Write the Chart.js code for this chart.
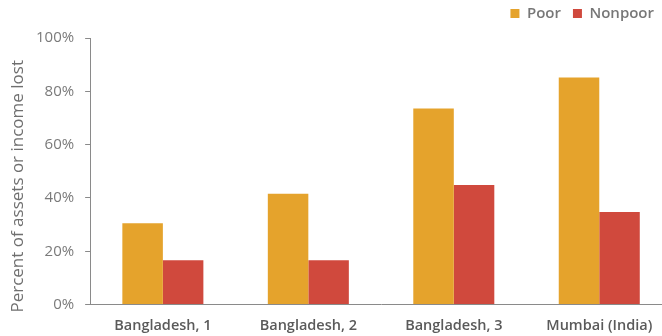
<!DOCTYPE html>
<html>
<head>
<meta charset="utf-8">
<script src="https://cdn.jsdelivr.net/npm/chart.js@4"></script>
<style>
    html, body { margin: 0; padding: 0; background: #fff; overflow: hidden; }
    #wrap { width: 672px; height: 336px; }
</style>
</head>
<body>
<div id="wrap"><canvas id="lossChart"></canvas></div>
<script>
const categories = ['Bangladesh, 1', 'Bangladesh, 2', 'Bangladesh, 3', 'Mumbai (India)'];
const poorValues = [30.5, 41.6, 73.6, 85.2];
const nonpoorValues = [16.6, 16.6, 44.9, 34.7];
const yTicks = [0, 20, 40, 60, 80, 100];
const yTitle = 'Percent of assets or income lost';

const FONT = "'Open Sans', sans-serif";

// the plot runs a little past the right edge of the picture, the legend does not
const shiftLegend = {
    id: 'shiftLegend',
    afterLayout(chart) {
        const lg = chart.legend;
        lg.left -= 6;
        lg.right -= 6;
        lg.top -= 7;
        lg.bottom -= 7;
    }
};

// y title sits lower than the middle of the axis and runs off the bottom,
// so it is drawn by hand instead of through scale.title (which squeezes it)
const axisTitle = {
    id: 'axisTitle',
    afterDraw(chart) {
        const { ctx, chartArea } = chart;
        ctx.save();
        ctx.translate(18, (chartArea.top + chartArea.bottom) / 2 + 15);
        ctx.rotate(-Math.PI / 2);
        ctx.font = "17px 'Open Sans', sans-serif";
        ctx.fillStyle = '#6f6f6f';
        ctx.textAlign = 'center';
        ctx.textBaseline = 'middle';
        ctx.fillText(yTitle, 0, 0);
        ctx.restore();
    }
};

document.addEventListener('DOMContentLoaded', () => {
    const ctx = document.getElementById('lossChart').getContext('2d');
    new Chart(ctx, {
        type: 'bar',
        data: {
            labels: categories,
            datasets: [{
                label: 'Poor',
                data: poorValues,
                backgroundColor: '#E5A32C'
            }, {
                label: 'Nonpoor',
                data: nonpoorValues,
                backgroundColor: '#D0493D'
            }]
        },
        options: {
            responsive: true,
            maintainAspectRatio: false,
            animation: false,
            datasets: {
                bar: {
                    categoryPercentage: 0.557,
                    barPercentage: 1.0
                }
            },
            layout: {
                padding: { top: 1, left: 25, right: 0, bottom: -12 }
            },
            plugins: {
                legend: {
                    position: 'top',
                    align: 'end',
                    labels: {
                        boxWidth: 9,
                        boxHeight: 9,
                        padding: 12,
                        color: '#777',
                        font: { family: FONT, size: 15, weight: '600' }
                    }
                },
                tooltip: { enabled: false }
            },
            scales: {
                x: {
                    grid: { display: false, drawTicks: false },
                    border: { display: true, color: '#8a8a8a', width: 1 },
                    ticks: {
                        padding: 13,
                        color: '#5a5a5a',
                        font: { family: FONT, size: 14.5, weight: '600' }
                    }
                },
                y: {
                    min: 0,
                    max: 100,
                    afterBuildTicks(axis) {
                        axis.ticks = yTicks.map(v => ({ value: v }));
                    },
                    grid: {
                        drawOnChartArea: false,
                        drawTicks: true,
                        tickLength: 5,
                        color: '#8a8a8a'
                    },
                    border: { display: true, color: '#8a8a8a', width: 1 },
                    ticks: {
                        padding: 11,
                        color: '#7a7a7a',
                        font: { family: FONT, size: 15 },
                        callback: v => v + '%'
                    }
                }
            }
        },
        plugins: [shiftLegend, axisTitle]
    });
});
</script>
</body>
</html>
